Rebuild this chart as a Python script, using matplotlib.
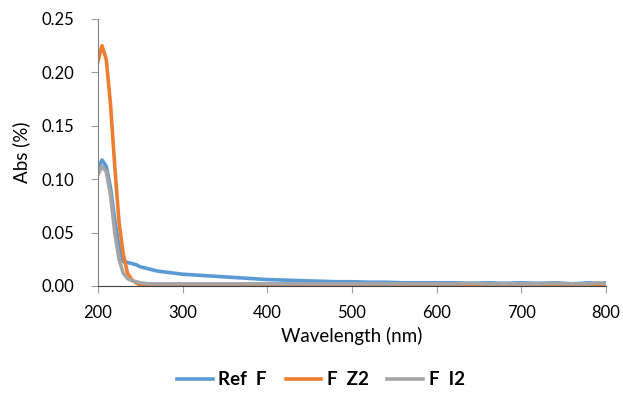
import matplotlib.pyplot as plt

plt.rcParams['font.family'] = ['Lato', 'DejaVu Sans']

wl = [200, 205, 210, 215, 220, 225, 230, 235, 240, 245, 250, 260, 270, 280, 290, 300,
      320, 340, 360, 380, 400, 420, 440, 460, 480, 500, 520, 540, 560, 580, 600,
      620, 640, 660, 680, 700, 720, 740, 760, 780, 790, 800]

ref_f = [0.110, 0.118, 0.112, 0.092, 0.062, 0.036, 0.023, 0.022, 0.021, 0.020, 0.018, 0.016, 0.014, 0.013, 0.012, 0.011,
         0.010, 0.009, 0.008, 0.007, 0.006, 0.0055, 0.005, 0.0045, 0.004, 0.004, 0.0035, 0.0035, 0.003, 0.003, 0.003,
         0.003, 0.0025, 0.003, 0.0025, 0.003, 0.0025, 0.003, 0.002, 0.003, 0.002, 0.003]

f_z2 = [0.210, 0.225, 0.212, 0.170, 0.112, 0.060, 0.030, 0.012, 0.006, 0.003, 0.001, 0.0, 0.0, 0.0, 0.0, 0.0,
        0.0, 0.0, 0.0, 0.0, 0.0, 0.0, 0.0, 0.0, 0.0, 0.0, 0.0, 0.0, 0.0, 0.0, 0.0,
        0.0, 0.0, 0.0, 0.0, 0.0, 0.0, 0.0, 0.0, 0.0, 0.002, 0.0]

f_i2 = [0.104, 0.112, 0.107, 0.085, 0.050, 0.025, 0.012, 0.007, 0.005, 0.004, 0.003, 0.002, 0.002, 0.002, 0.002, 0.002,
        0.002, 0.002, 0.002, 0.002, 0.002, 0.002, 0.002, 0.002, 0.002, 0.002, 0.002, 0.002, 0.002, 0.002, 0.002,
        0.002, 0.0025, 0.002, 0.002, 0.002, 0.002, 0.0025, 0.002, 0.002, 0.003, 0.002]

fig = plt.figure(figsize=(6.23, 3.95), dpi=100)
ax = fig.add_axes([0.157, 0.276, 0.816, 0.676])

ax.plot(wl, ref_f, color='#5B9BD5', lw=2.6, label='Ref  F')
ax.plot(wl, f_z2, color='#ED7D31', lw=2.6, label='F  Z2')
ax.plot(wl, f_i2, color='#A5A5A5', lw=2.6, label='F  I2')

ax.set_xlim(200, 800)
ax.set_ylim(0, 0.25)
ax.set_xticks(range(200, 801, 100))
ax.set_yticks([0, 0.05, 0.10, 0.15, 0.20, 0.25])
ax.set_yticklabels(['0.00', '0.05', '0.10', '0.15', '0.20', '0.25'])

for s in ['top', 'right']:
    ax.spines[s].set_visible(False)
ax.spines['left'].set_color('#808080')
ax.spines['bottom'].set_color('#404040')
ax.tick_params(colors='#A0A0A0', labelcolor='black', labelsize=12, length=5)
ax.tick_params(axis='x', pad=9)
ax.tick_params(axis='y', pad=12)

ax.set_xlabel('Wavelength (nm)', fontsize=13.5, labelpad=4)
ax.set_ylabel('Abs (%)', fontsize=13.5, labelpad=8)

leg = fig.legend(loc='center', bbox_to_anchor=(0.515, 0.038), ncol=3, frameon=False,
                 prop={'weight': 'bold', 'size': 13.5}, handlelength=1.9,
                 handletextpad=0.3, columnspacing=1.0)

fig.savefig('out.png', dpi=100)
